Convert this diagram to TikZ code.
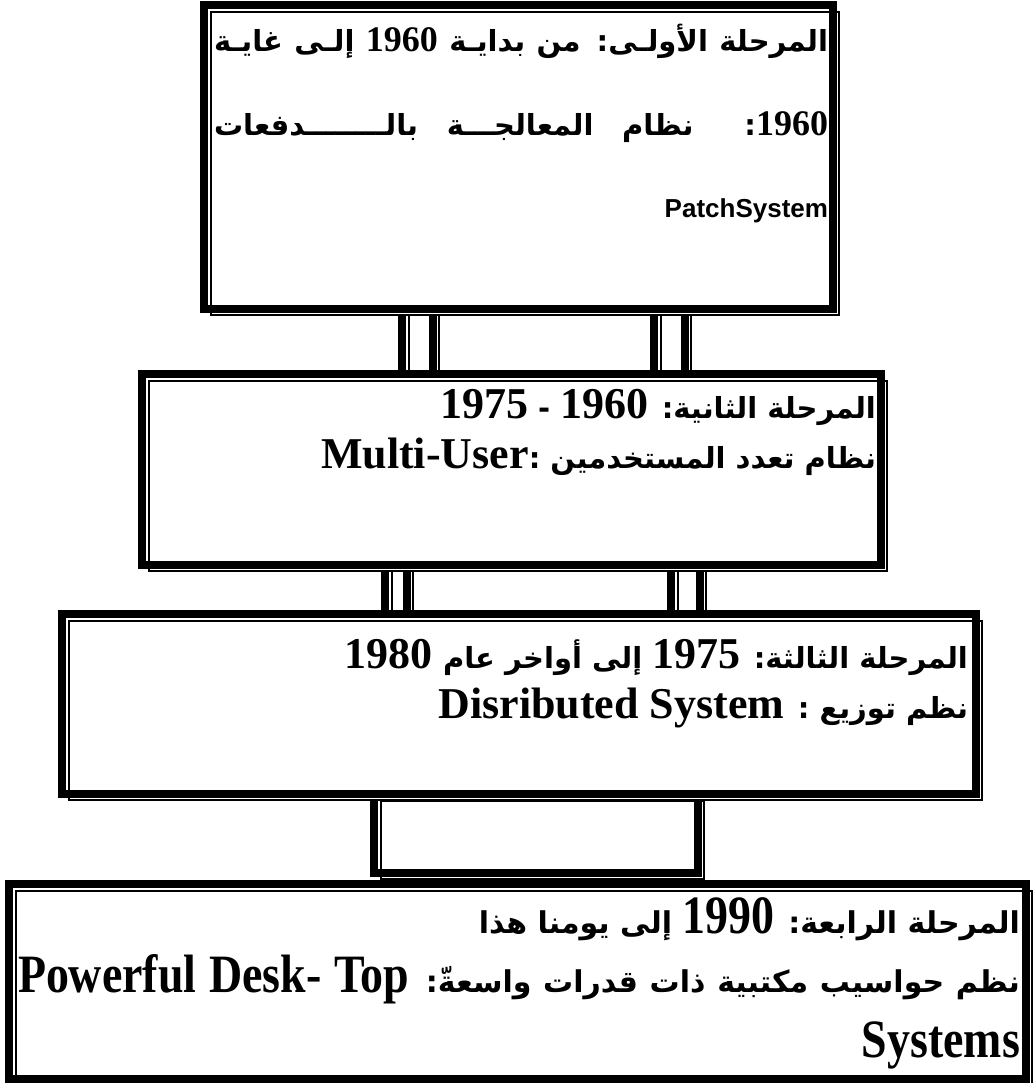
\documentclass[tikz,border=0pt]{standalone}
\usepackage{fontspec}
\TeXXeTstate=1
\newfontfamily\arab[Script=Arabic]{DejaVu Sans}
\newfontfamily\lserif{Liberation Serif}
\newfontfamily\lserifc[FakeStretch=0.85]{Liberation Serif}
\newfontfamily\lsans{Liberation Sans}
\newcommand\arA{\arab\bfseries\fontsize{29pt}{33pt}\selectfont}
\newcommand\numA{\lserif\bfseries\fontsize{36pt}{40pt}\selectfont}
\newcommand\arB{\arab\bfseries\fontsize{29pt}{33pt}\selectfont}
\newcommand\latB{\lserif\bfseries\fontsize{44pt}{48pt}\selectfont}
\newcommand\arD{\arab\bfseries\fontsize{30pt}{34pt}\selectfont}
\newcommand\latD{\lserifc\bfseries\fontsize{54pt}{58pt}\selectfont}
\newcommand\ttframe[1]{%
  \draw[line width=8pt] ([shift={(4pt,-4pt)}]#1.north west) rectangle ([shift={(-7.5pt,7.5pt)}]#1.south east);
  \draw[line width=2pt] ([shift={(11pt,-11pt)}]#1.north west) rectangle ([shift={(-1pt,1pt)}]#1.south east);
}
\newcommand\boxnode[5]{%
  \node[framebox, minimum width={(#4-#2)*1pt}, minimum height={(#5-#3)*1pt}] (#1) at ({(#2+#4)/2},{(#3+#5)/2}) {};
  \ttframe{#1}}
\tikzset{
  framebox/.style={fill=white, draw=none, inner sep=0pt, outer sep=0pt},
  txt/.style={inner sep=0pt, outer sep=0pt, anchor=base east},
}
\begin{document}
\begin{tikzpicture}[x=1pt,y=-1pt]
\useasboundingbox[fill=white] (0,0) rectangle (1033,1083);
% connectors
\boxnode{c1l}{398}{300}{440}{385}
\boxnode{c1r}{650}{300}{692}{385}
\boxnode{c2l}{381}{560}{414}{625}
\boxnode{c2r}{667}{560}{707}{625}
\boxnode{c3}{370}{790}{705}{880}
% boxes
\boxnode{b1}{200}{1}{840}{316}
\boxnode{b2}{138}{370}{888}{572}
\boxnode{b3}{58}{610}{983}{801}
\boxnode{b4}{5}{880}{1033}{1086}
% box 1 text
\node[txt] (t11) at (828,52) {\hbox to 614pt{\arA\beginR المرحلة الأولـى: من بدايـة \beginL{\numA 1960}\endL{} إلـى غايـة\endR}};
\node[txt] (t12) at (828,136) {\hbox to 614pt{\arA\beginR\beginL{\numA 1960}\endL: نظام المعالجـــة بالــــــــدفعات\endR}};
\node[txt] (t13) at (828,218) {\lsans\bfseries\fontsize{26pt}{30pt}\selectfont PatchSystem};
% box 2 text
\node[txt] (t21) at (876,418) {\arB\beginR المرحلة الثانية: \beginL{\latB 1960}\endL{} - \beginL{\latB 1975}\endL\endR};
\node[txt] (t22) at (876,468) {\arB\beginR نظام تعدد المستخدمين :\beginL{\latB Multi-User}\endL\endR};
% box 3 text
\node[txt] (t31) at (968,668) {\arB\beginR المرحلة الثالثة: \beginL{\latB 1975}\endL{} إلى أواخر عام \beginL{\latB 1980}\endL\endR};
\node[txt] (t32) at (968,718) {\arB\beginR نظم توزيع : \beginL{\latB Disributed System}\endL\endR};
% box 4 text
\node[txt] (t41) at (1020,933) {\arD\beginR المرحلة الرابعة: \beginL{\latD 1990}\endL{} إلى يومنا هذا\endR};
\node[txt] (t42) at (1020,992) {\hbox to 1002pt{\arD\beginR نظم حواسيب مكتبية ذات قدرات واسعةّ: \beginL{\latD Powerful Desk- Top}\endL\endR}};
\node[txt] (t43) at (1020,1057) {\latD Systems};
\end{tikzpicture}
\end{document}
